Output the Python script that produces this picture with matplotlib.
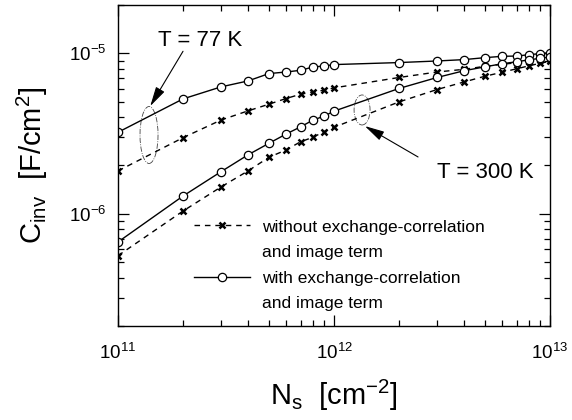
import numpy as np
import matplotlib
matplotlib.use("Agg")
import matplotlib.pyplot as plt
from matplotlib.patches import Ellipse
from matplotlib.lines import Line2D

plt.rcParams['font.family'] = ['Liberation Sans', 'DejaVu Sans']
plt.rcParams['mathtext.fontset'] = 'custom'
plt.rcParams['mathtext.rm'] = 'Liberation Sans'
plt.rcParams['mathtext.it'] = 'Liberation Sans:italic'
plt.rcParams['mathtext.default'] = 'regular'

# sheet carrier density [cm^-2]
ns = np.array([1e11, 2e11, 3e11, 4e11, 5e11, 6e11, 7e11, 8e11, 9e11,
               1e12, 2e12, 3e12, 4e12, 5e12, 6e12, 7e12, 8e12, 9e12, 1e13])

# C_inv [F/cm^2]
c77_with = np.array([3.22e-6, 5.20e-6, 6.18e-6, 6.73e-6, 7.48e-6, 7.65e-6, 7.84e-6, 8.22e-6, 8.34e-6,
                     8.51e-6, 8.76e-6, 8.96e-6, 9.14e-6, 9.40e-6, 9.58e-6, 9.62e-6, 9.81e-6, 9.96e-6, 1.01e-5])
c77_without = np.array([1.85e-6, 2.98e-6, 3.84e-6, 4.38e-6, 4.82e-6, 5.23e-6, 5.56e-6, 5.75e-6, 5.89e-6,
                        6.09e-6, 7.07e-6, 7.65e-6, 7.95e-6, 8.30e-6, 8.55e-6, 8.73e-6, 8.92e-6, 9.11e-6, 9.24e-6])
c300_with = np.array([6.67e-7, 1.29e-6, 1.83e-6, 2.33e-6, 2.75e-6, 3.14e-6, 3.48e-6, 3.84e-6, 4.06e-6,
                      4.36e-6, 6.04e-6, 7.07e-6, 7.79e-6, 8.24e-6, 8.61e-6, 8.86e-6, 9.11e-6, 9.31e-6, 9.51e-6])
c300_without = np.array([5.48e-7, 1.04e-6, 1.47e-6, 1.85e-6, 2.25e-6, 2.50e-6, 2.81e-6, 3.00e-6, 3.25e-6,
                         3.46e-6, 4.98e-6, 5.95e-6, 6.63e-6, 7.20e-6, 7.62e-6, 8.01e-6, 8.36e-6, 8.67e-6, 8.92e-6])

fig = plt.figure(figsize=(5.72, 4.2), dpi=100)
ax = fig.add_axes([0.2063, 0.224, 0.7552, 0.764])

solid = dict(color='k', lw=1.0, ls='-', marker='o', ms=6, mfc='white', mec='k', mew=0.9)
dashed = dict(color='k', lw=1.0, ls=(0, (4, 3.5)), marker='x', ms=5, mew=1.8)

ax.plot(ns, c77_without, **dashed)
ax.plot(ns, c300_without, **dashed)
ax.plot(ns, c77_with, **solid)
ax.plot(ns, c300_with, **solid)

ax.set_xscale('log')
ax.set_yscale('log')
ax.set_xlim(1e11, 1e13)
ax.set_ylim(2e-7, 2e-5)

ax.tick_params(which='both', direction='in', top=True, right=True, labelsize=13.5, width=0.9)
ax.tick_params(which='major', length=8, pad=8)
ax.tick_params(axis='x', which='major', pad=12)
ax.tick_params(which='minor', length=4)
for s in ax.spines.values():
    s.set_linewidth(1.0)

ax.set_xlabel('N$_s$  [cm$^{-2}$]', fontsize=21, labelpad=11)
ax.set_ylabel('C$_{inv}$  [F/cm$^2$]', fontsize=21, labelpad=14)

# ellipses marking the curve pairs
ax.add_patch(Ellipse((0.0718, 0.595), 0.0417, 0.1776, transform=ax.transAxes,
                     fill=False, ls='-.', lw=0.6, color='#444444'))
ax.add_patch(Ellipse((0.565, 0.673), 0.037, 0.0935, transform=ax.transAxes,
                     fill=False, ls='-.', lw=0.6, color='#444444'))

arrow = dict(arrowstyle='-|>,head_length=1.2,head_width=0.3', lw=0.8, color='k',
             shrinkA=0, shrinkB=0, mutation_scale=10)
ax.annotate('', xy=(1.41e11, 4.69e-6), xytext=(2.0e11, 1.03e-5), arrowprops=arrow)
ax.annotate('', xy=(1.39e12, 3.52e-6), xytext=(2.45e12, 2.26e-6), arrowprops=arrow)
ax.text(1.53e11, 1.2e-5, 'T = 77 K', fontsize=16, va='center', ha='left')
ax.text(3.0e12, 1.8e-6, 'T = 300 K', fontsize=16, va='center', ha='left')

blank = Line2D([], [], color='none')
handles = [Line2D([], [], **dashed), blank, Line2D([], [], **solid), blank]
labels = ['without exchange-correlation', 'and image term',
          'with exchange-correlation', 'and image term']
ax.legend(handles, labels, loc='upper left', bbox_to_anchor=(0.176, 0.332),
          frameon=False, fontsize=12.5, handlelength=3.2, handletextpad=0.7,
          labelspacing=0.6, borderpad=0, borderaxespad=0)

fig.savefig('out.png', dpi=100)
